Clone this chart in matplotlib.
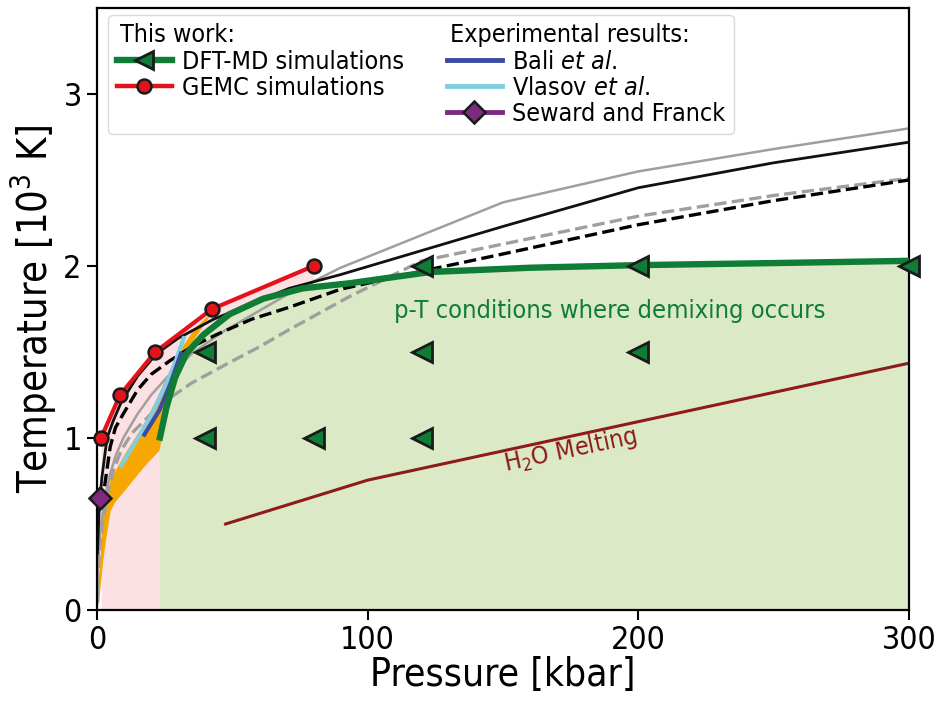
import matplotlib
matplotlib.use("Agg")
import matplotlib.pyplot as plt
from matplotlib.lines import Line2D

plt.rcParams["font.family"] = ["DejaVu Sans"]
plt.rcParams["font.stretch"] = "condensed"
plt.rcParams["mathtext.fontset"] = "dejavusans"

# ---- GEMC coexistence points (pressure in kbar, temperature in 10^3 K)
gemc_p = [1.5, 8.5, 21.5, 42.5, 80.0]
gemc_T = [1.00, 1.25, 1.50, 1.75, 2.00]

# ---- DFT-MD state points where demixing was observed
dft_p = [40, 40, 80, 120, 120, 120, 200, 200, 300]
dft_T = [1.0, 1.5, 1.0, 1.0, 1.5, 2.0, 1.5, 2.0, 2.0]

# ---- demixing boundary from DFT-MD
bound_p = [23, 25.7, 28.8, 33, 39.3, 49, 61.4, 76, 93.5, 123, 160, 200, 250, 300]
bound_T = [0.985, 1.18, 1.35, 1.49, 1.60, 1.72, 1.81, 1.87, 1.90, 1.965, 1.99, 2.005, 2.017, 2.03]

# ---- model critical curves
black_p = [0.15, 0.37, 0.85, 1.8, 3.7, 6, 9, 15, 22, 30, 43, 60, 71, 90, 120, 150, 200, 250, 300]
black_T = [0.33, 0.42, 0.60, 0.77, 1.00, 1.10, 1.21, 1.36, 1.49, 1.58, 1.69, 1.80, 1.87, 1.95, 2.09, 2.23, 2.455, 2.60, 2.72]

blackd_p = [2.8, 4.9, 6.8, 9.7, 15, 20, 27, 35, 44, 57, 71, 90, 120, 150, 200, 250, 300]
blackd_T = [0.72, 0.95, 1.06, 1.14, 1.28, 1.37, 1.45, 1.53, 1.60, 1.69, 1.76, 1.865, 1.97, 2.07, 2.24, 2.38, 2.50]

grey_p = [0.2, 0.5, 1.0, 1.7, 3.0, 5.0, 7.0, 9.7, 15, 20, 25.7, 35, 46.7, 60, 71, 90, 150, 200, 250, 300]
grey_T = [0.05, 0.28, 0.42, 0.52, 0.66, 0.80, 0.90, 1.00, 1.14, 1.25, 1.35, 1.49, 1.62, 1.74, 1.84, 1.99, 2.37, 2.55, 2.68, 2.80]

greyd_p = [0.2, 0.5, 1.0, 2.0, 4.0, 6.0, 9.0, 13, 20, 25.7, 35, 46.7, 60, 71, 93, 120, 200, 250, 300]
greyd_T = [0.04, 0.24, 0.36, 0.50, 0.68, 0.81, 0.93, 1.03, 1.14, 1.22, 1.32, 1.42, 1.53, 1.63, 1.82, 2.03, 2.29, 2.41, 2.51]

# ---- experiments
bali_p = [17.5, 23, 27, 31]
bali_T = [1.02, 1.16, 1.31, 1.49]
vlasov_p = [9.0, 20, 28, 32]
vlasov_T = [0.84, 1.13, 1.40, 1.58]
seward_p = [1.0]
seward_T = [0.65]

# experimental uncertainty band
band_p = [0.4, 2.2, 3.1, 4.9, 6.6, 9.8, 17, 22.9, 25, 30, 36, 42]
band_lo = [0.02, 0.30, 0.40, 0.58, 0.63, 0.69, 0.83, 0.93, 1.10, 1.36, 1.58, 1.72]
band_hi = [0.12, 0.62, 0.67, 0.76, 0.81, 0.90, 1.08, 1.26, 1.34, 1.50, 1.64, 1.73]

# ---- ice melting line
melt_p = [47.5, 100, 300]
melt_T = [0.50, 0.755, 1.435]

# ---- colours
c_green = "#0f7d35"
c_green_fill = "#dce9c6"
c_pink = "#fbe1e4"
c_red = "#e3121b"
c_orange = "#f7a800"
c_blue = "#3c4aa0"
c_cyan = "#80cde0"
c_purple = "#7d2a80"
c_grey = "#a39e9e"
c_melt = "#8e1a1a"

fs_leg = 18

fig = plt.figure(figsize=(9.41, 7.01), dpi=100)
ax = fig.add_axes([97 / 941, 1 - 610 / 701, 812 / 941, 602 / 701])

ax.fill_between(gemc_p, gemc_T, 0, color=c_pink, lw=0, zorder=1)
ax.fill_between(bound_p, bound_T, 0, color=c_green_fill, lw=0, zorder=1.1)
ax.fill_between(band_p, band_lo, band_hi, color=c_orange, lw=0, zorder=1.2)

ax.plot(melt_p, melt_T, color=c_melt, lw=2.2, zorder=2)

ax.plot(greyd_p, greyd_T, color=c_grey, lw=2.4, ls="--", zorder=2.1)
ax.plot(grey_p, grey_T, color=c_grey, lw=1.8, zorder=2.2)
ax.plot(blackd_p, blackd_T, color="black", lw=2.4, ls="--", zorder=2.3)
ax.plot(black_p, black_T, color="#111111", lw=2.0, zorder=2.4)

ax.plot(vlasov_p, vlasov_T, color=c_cyan, lw=3.0, zorder=3)
ax.plot(bali_p, bali_T, color=c_blue, lw=3.0, zorder=3.1)

ax.plot(bound_p, bound_T, color=c_green, lw=4.6, zorder=3.5, solid_capstyle="butt")
ax.plot(gemc_p, gemc_T, color=c_red, lw=3.0, marker="o", ms=10,
        mfc=c_red, mec="#1a1a1a", mew=1.8, zorder=4, clip_on=False)
ax.plot(dft_p, dft_T, ls="none", marker="<", ms=14, mfc=c_green,
        mec="#1a1a1a", mew=2.0, zorder=4.5, clip_on=False)
ax.plot(seward_p, seward_T, ls="none", marker="D", ms=11, mfc=c_purple,
        mec="#1a1a1a", mew=1.8, zorder=5, clip_on=False)

ax.text(189.5, 1.74, "p-T conditions where demixing occurs", color=c_green,
        fontsize=18.3, ha="center", va="center", zorder=6)
ax.text(175, 0.93, "H$_2$O Melting", color=c_melt, fontsize=18,
        ha="center", va="center", rotation=12, rotation_mode="anchor", zorder=6)

ax.set_xlim(0, 300)
ax.set_ylim(0, 3.5)
ax.set_xticks([0, 100, 200, 300])
ax.set_yticks([0, 1, 2, 3])
ax.tick_params(labelsize=23, width=1.5, length=7, pad=4)
for s in ax.spines.values():
    s.set_linewidth(1.6)
ax.set_xlabel("Pressure [kbar]", fontsize=28, labelpad=0)
ax.set_ylabel(r"Temperature [10$^3$ K]", fontsize=28.5, labelpad=3)

# ---- legend with two titled groups
blank = Line2D([], [], ls="none")
handles = [
    blank,
    Line2D([], [], color=c_green, lw=4.6, marker="<", ms=13, mfc=c_green, mec="#1a1a1a", mew=2.0),
    Line2D([], [], color=c_red, lw=3.2, marker="o", ms=10, mfc=c_red, mec="#1a1a1a", mew=1.8),
    blank,
    blank,
    Line2D([], [], color=c_blue, lw=3.5),
    Line2D([], [], color=c_cyan, lw=3.5),
    Line2D([], [], color=c_purple, lw=3.5, marker="D", ms=11, mfc=c_purple, mec="#1a1a1a", mew=1.8),
]
labels = ["", "DFT-MD simulations", "GEMC simulations", "",
          "", "Bali $\\it{et\\ al}$.", "Vlasov $\\it{et\\ al}$.", "Seward and Franck"]
leg = ax.legend(handles, labels, ncol=2, loc="upper left",
                bbox_to_anchor=(11 / 812, 1 - 7 / 602), borderaxespad=0,
                fontsize=fs_leg, handlelength=2.2, handletextpad=0.4,
                columnspacing=1.72, labelspacing=0.08, borderpad=0.35,
                frameon=True, fancybox=True, edgecolor="#d9d9d9", framealpha=1)
leg.set_zorder(10)
ax.text(23 / 812, 1 - 27 / 602, "This work:", transform=ax.transAxes,
        fontsize=fs_leg, ha="left", va="center", zorder=11)
ax.text(353 / 812, 1 - 27 / 602, "Experimental results:", transform=ax.transAxes,
        fontsize=fs_leg, ha="left", va="center", zorder=11)

fig.savefig("out.png", dpi=100)
